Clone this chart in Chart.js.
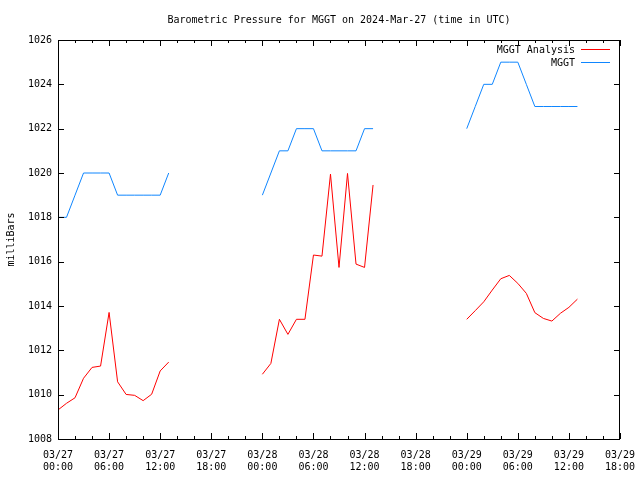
<!DOCTYPE html>
<html>
<head>
<meta charset="utf-8">
<script src="https://cdn.jsdelivr.net/npm/chart.js@4"></script>
<style>
  html, body { margin: 0; padding: 0; background: #fff; }
  #wrap { width: 640px; height: 480px; }
</style>
</head>
<body>
<div id="wrap"><canvas id="chart"></canvas></div>
<script>
// hours since 03/27 00:00 UTC
const hours = [
  0, 1, 2, 3, 4, 5, 6, 7, 8, 9, 10, 11, 12, 13,
  24, 25, 26, 27, 28, 29, 30, 31, 32, 33, 34, 35, 36, 37,
  48, 49, 50, 51, 52, 53, 54, 55, 56, 57, 58, 59, 60, 61
];
const analysis = [
  1009.31, 1009.61, 1009.86, 1010.74, 1011.23, 1011.29, 1013.71, 1010.58, 1010.01, 1009.97, 1009.73, 1010.02, 1011.07, 1011.47,
  1010.92, 1011.41, 1013.40, 1012.72, 1013.40, 1013.40, 1016.30, 1016.25, 1019.95, 1015.74, 1019.98, 1015.89, 1015.74, 1019.46,
  1013.40, 1013.79, 1014.19, 1014.72, 1015.23, 1015.38, 1015.02, 1014.57, 1013.70, 1013.44, 1013.32, 1013.67, 1013.94, 1014.31
];
const observed = [
  1018, 1018, 1019, 1020, 1020, 1020, 1020, 1019, 1019, 1019, 1019, 1019, 1019, 1020,
  1019, 1020, 1021, 1021, 1022, 1022, 1022, 1021, 1021, 1021, 1021, 1021, 1022, 1022,
  1022, 1023, 1024, 1024, 1025, 1025, 1025, 1024, 1023, 1023, 1023, 1023, 1023, 1023
];
const tickLabels = [
  ['03/27', '00:00'], ['03/27', '06:00'], ['03/27', '12:00'], ['03/27', '18:00'],
  ['03/28', '00:00'], ['03/28', '06:00'], ['03/28', '12:00'], ['03/28', '18:00'],
  ['03/29', '00:00'], ['03/29', '06:00'], ['03/29', '12:00'], ['03/29', '18:00']
];
const seriesNames = ['MGGT Analysis', 'MGGT'];
const seriesColors = ['#ff0000', '#0f86ff'];
const titleText = 'Barometric Pressure for MGGT on 2024-Mar-27 (time in UTC)';

const FONT = 'DejaVu Sans Mono';

// build points, breaking the line where hours jump
function toPoints(values) {
  const pts = [];
  hours.forEach((h, i) => {
    if (i > 0 && h - hours[i - 1] > 1) pts.push({ x: h - 0.5, y: null });
    pts.push({ x: h, y: values[i] });
  });
  return pts;
}

// gnuplot style frame: inward ticks on all four sides, title and legend
const framePlugin = {
  id: 'frame',
  afterDraw(chart) {
    const { ctx, chartArea: a, scales } = chart;
    ctx.save();
    ctx.strokeStyle = '#000';
    ctx.lineWidth = 1;
    ctx.strokeRect(a.left + 0.5, a.top + 0.5, a.right - a.left - 1, a.bottom - a.top);

    ctx.beginPath();
    for (let h = 0; h <= 66; h += 2) {
      const x = Math.round(scales.x.getPixelForValue(h)) + 0.5;
      const len = h % 6 === 0 ? 6 : 3;
      ctx.moveTo(x, a.bottom); ctx.lineTo(x, a.bottom - len);
      ctx.moveTo(x, a.top); ctx.lineTo(x, a.top + len);
    }
    for (let v = 1008; v <= 1026; v += 2) {
      const y = Math.round(scales.y.getPixelForValue(v)) + 0.5;
      ctx.moveTo(a.left, y); ctx.lineTo(a.left + 6, y);
      ctx.moveTo(a.right, y); ctx.lineTo(a.right - 6, y);
    }
    ctx.stroke();

    ctx.fillStyle = '#000';
    ctx.font = '10px "' + FONT + '"';
    ctx.textAlign = 'center';
    ctx.textBaseline = 'middle';
    ctx.fillText(titleText, (a.left + a.right) / 2, 20);

    ctx.textAlign = 'right';
    seriesNames.forEach((name, i) => {
      const y = 50 + i * 13;
      ctx.fillStyle = '#000';
      ctx.fillText(name, 575, y);
      ctx.strokeStyle = seriesColors[i];
      ctx.beginPath();
      ctx.moveTo(581, Math.round(y) - 0.5);
      ctx.lineTo(610, Math.round(y) - 0.5);
      ctx.stroke();
    });
    ctx.restore();
  }
};

new Chart(document.getElementById('chart'), {
  type: 'line',
  data: {
    datasets: [
      { label: seriesNames[0], data: toPoints(analysis), borderColor: seriesColors[0] },
      { label: seriesNames[1], data: toPoints(observed), borderColor: seriesColors[1] }
    ]
  },
  options: {
    responsive: true,
    maintainAspectRatio: false,
    animation: false,
    spanGaps: false,
    elements: {
      line: { borderWidth: 1, tension: 0, fill: false },
      point: { radius: 0, hoverRadius: 0 }
    },
    layout: { padding: { top: 40, right: 20, left: 0, bottom: 0 } },
    plugins: { legend: { display: false }, tooltip: { enabled: false }, title: { display: false } },
    scales: {
      x: {
        type: 'linear',
        min: 0,
        max: 66,
        grid: { display: false, drawTicks: false },
        border: { display: false },
        afterFit(scale) {
          scale.height = 41;
          scale.paddingLeft = 0;
          scale.paddingRight = 0;
        },
        ticks: {
          stepSize: 6,
          autoSkip: false,
          maxRotation: 0,
          padding: 10,
          color: '#000',
          font: { family: FONT, size: 10, lineHeight: 1.2 },
          callback: (v) => tickLabels[v / 6]
        }
      },
      y: {
        min: 1008,
        max: 1026,
        grid: { display: false, drawTicks: false },
        border: { display: false },
        afterFit(scale) {
          scale.width = 58;
          scale.paddingTop = 0;
          scale.paddingBottom = 0;
        },
        title: {
          display: true,
          text: 'milliBars',
          color: '#000',
          font: { family: FONT, size: 10 },
          padding: { top: 5, bottom: 4 }
        },
        ticks: {
          stepSize: 2,
          padding: 6,
          color: '#000',
          font: { family: FONT, size: 10 },
          callback: (v) => String(v)
        }
      }
    }
  },
  plugins: [framePlugin]
});
</script>
</body>
</html>
